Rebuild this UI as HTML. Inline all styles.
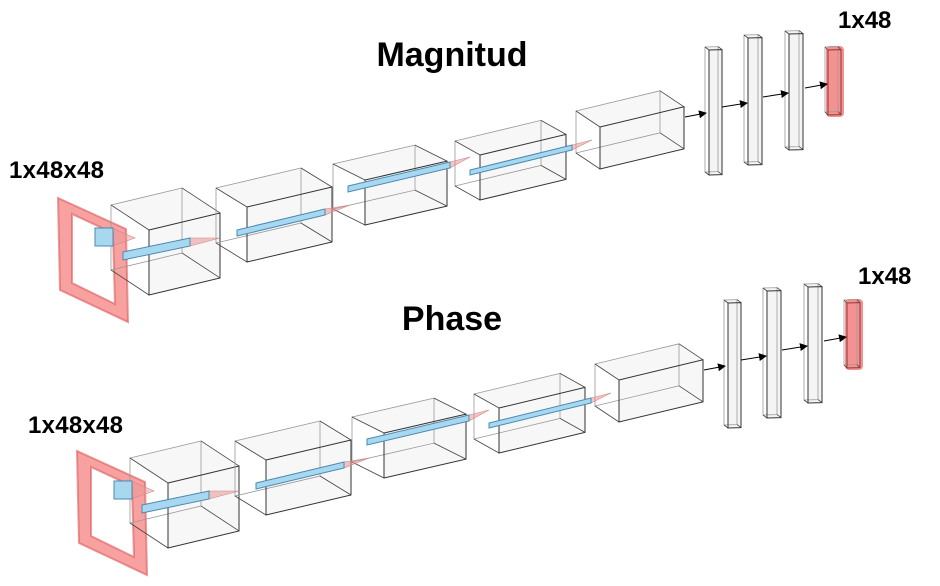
<!DOCTYPE html>
<html><head><meta charset="utf-8">
<style>
html,body{margin:0;padding:0;background:#fff;}
svg{display:block;}
text{font-family:"Liberation Sans",sans-serif;font-weight:bold;fill:#000;}
</style></head>
<body>
<svg id="diagram" width="940" height="586" viewBox="0 0 940 586" xmlns="http://www.w3.org/2000/svg">
<defs>
<marker id="ah" markerWidth="8" markerHeight="8" refX="7" refY="4" orient="auto" markerUnits="userSpaceOnUse">
<path d="M0,0 L8,4 L0,8 z" fill="#000"/>
</marker>
</defs>
<text x="452" y="66" font-size="34" text-anchor="middle">Magnitud</text>
<text x="452" y="330" font-size="34" text-anchor="middle">Phase</text>
<text x="9" y="178" font-size="24" textLength="95">1x48x48</text>
<text x="28" y="433" font-size="24" textLength="95">1x48x48</text>
<text x="838" y="28" font-size="24">1x48</text>
<text x="858" y="284" font-size="24">1x48</text>
<g id="net-top"></g>
<g id="net-bot" transform="translate(19,253)"></g>
</svg>
<script>
const NS="http://www.w3.org/2000/svg";
// conv boxes: fx, fy, w, h, slope, dx, dy
const convBoxes=[[149,230,71,65,-0.24,38,25],[247,207,85,55,-0.235,31,19],[365,180,82,45,-0.23,32,16],[480,155,86,45,-0.24,25,14],[600,127,84,42,-0.24,24,16]];
const denseBars=[[709,50,13,125],[748,38,14,127],[789,34,14,116]];
const kernels=[[123,252,190,238,8,220,238],[237,230,325,209,6,350,205],[348,186,450,162,6,470,157],[470,170,572,145,5,592,140]];
const arrows=[[685,117,706,113],[722,107,747,103],[763,97,788,93],[805,88,827,84]];
function el(t,a,p){const e=document.createElementNS(NS,t);for(const k in a)e.setAttribute(k,a[k]);p.appendChild(e);return e;}
function pts(a){return a.map(p=>p[0].toFixed(1)+","+p[1].toFixed(1)).join(" ");}
function box(g,fx,fy,w,h,s,dx,dy,fill,stroke){
  const A=[fx,fy],B=[fx+w,fy+s*w],C=[fx+w,fy+s*w+h],D=[fx,fy+h];
  const b=p=>[p[0]-dx,p[1]-dy];
  el("polygon",{points:pts([b(A),b(B),B,C,D,A]),fill:fill,stroke:"none"},g);
  el("polygon",{points:pts([b(A),b(B),b(C),b(D)]),fill:"none",stroke:"#999","stroke-width":0.8},g);
  [A,B,C,D].forEach(p=>el("line",{x1:p[0],y1:p[1],x2:b(p)[0],y2:b(p)[1],stroke:"#444","stroke-width":0.8},g));
  el("polygon",{points:pts([A,B,C,D]),fill:"none",stroke:stroke,"stroke-width":1},g);
}
function build(g,prefix){
  const inp=el("path",{d:"M58,198 L126,229 L128,322 L60,290 Z M72,214 L113,233 L115,304 L72,283 Z","fill-rule":"evenodd",fill:"rgba(245,110,110,0.65)",stroke:"rgba(220,90,90,0.6)","stroke-width":2},g);
  
  
  convBoxes.forEach((c,i)=>{
    const bg=el("g",{},g);
    
    
    box(bg,c[0],c[1],c[2],c[3],c[4],c[5],c[6],"rgba(240,240,240,0.55)","#333");
  });
  const kc=el("g",{},g);
  
  
  el("polygon",{points:"112,228 135,238 112,246",fill:"rgba(235,150,150,0.5)",stroke:"#c88","stroke-width":0.6},kc);
  el("rect",{x:95,y:228,width:18,height:18,fill:"#a8d8f0",stroke:"#4a8ab0","stroke-width":1},kc);
  kernels.forEach((k,i)=>{
    const kg=el("g",{},g);
    
    
    el("polygon",{points:pts([[k[2],k[3]],[k[5],k[6]],[k[2],k[3]+k[4]]]),fill:"rgba(235,140,140,0.5)",stroke:"#c88","stroke-width":0.6},kg);
    el("polygon",{points:pts([[k[0],k[1]],[k[2],k[3]],[k[2],k[3]+k[4]],[k[0],k[1]+k[4]]]),fill:"#a8d8f0",stroke:"#4a8ab0","stroke-width":1},kg);
  });
  denseBars.forEach((d,i)=>{
    const dg=el("g",{},g);
    
    
    box(dg,d[0],d[1],d[2],d[3],-0.03,4,3,"rgba(240,240,240,0.7)","#333");
  });
  const og=el("g",{},g);
  
  
  el("rect",{x:826,y:46,width:18,height:71,rx:4,fill:"rgba(240,100,100,0.7)",stroke:"none"},og);
  box(og,828,50,13,65,-0.03,3,3,"none","#933");
  arrows.forEach((a,i)=>{
    const l=el("line",{x1:a[0],y1:a[1],x2:a[2],y2:a[3],stroke:"#000","stroke-width":1,"marker-end":"url(#ah)"},g);
    
    
  });
}
build(document.getElementById("net-top"),"magnitud");
build(document.getElementById("net-bot"),"phase");
</script>
</body></html>
